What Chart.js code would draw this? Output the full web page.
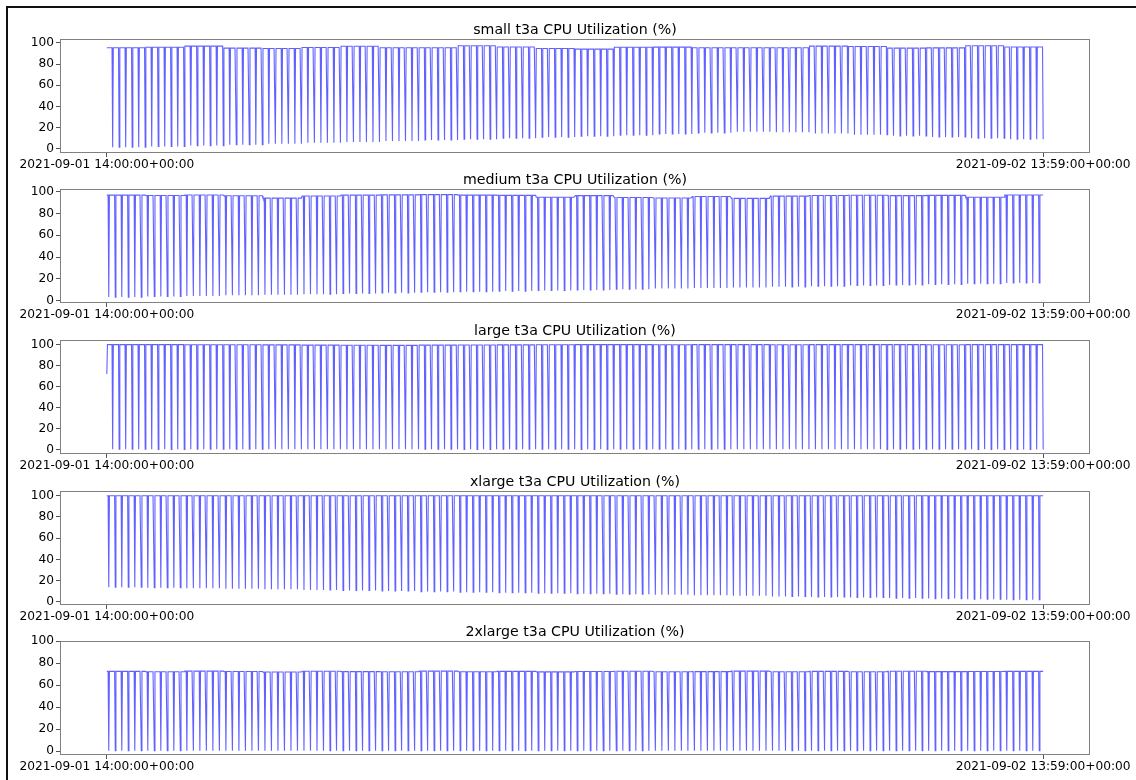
<!DOCTYPE html>
<html>
<head>
<meta charset="utf-8">
<script src="https://cdn.jsdelivr.net/npm/chart.js@4.4.0/dist/chart.umd.min.js"></script>
<style>
  html, body { margin: 0; padding: 0; background: #fff; }
  body { width: 1136px; height: 780px; position: relative; overflow: hidden; }
  #frame { position: absolute; left: 6px; top: 6px; width: 1140px; height: 780px;
           border-left: 2px solid #111; border-top: 2px solid #111; }
  canvas { position: absolute; left: 0; }
</style>
</head>
<body>
<div id="frame"></div>
<script>
const FONT = 'DejaVu Sans';
const MINUTES = 1440;            // one point per minute, 14:00 -> 13:59
const instanceNames = ['small', 'medium', 'large', 'xlarge', '2xlarge'];
const xTickMinutes = [0, 1439];
const xTickLabels = ['2021-09-01 14:00:00+00:00', '2021-09-02 13:59:00+00:00'];
const yTicks = [0, 20, 40, 60, 80, 100];

// hourly readings: level of the busy stretch, and bottom of the 1-minute dip every 10 min
const smallPeak   = [95.3, 95.8, 96.9, 95.0, 94.7, 95.6, 96.8, 95.3, 95.3, 97.2, 96.0, 94.6,
                     94.0, 95.8, 95.9, 95.4, 95.3, 95.3, 96.9, 96.5, 95.0, 95.2, 97.2, 96.0];
const smallTrough = [1.5, 2.2, 3.0, 3.9, 4.7, 5.6, 6.4, 7.3, 8.2, 9.0, 10.0, 11.0,
                     11.9, 12.8, 13.9, 15.0, 16.1, 15.5, 14.4, 13.3, 12.2, 11.1, 10.0, 9.0];
const mediumPeak   = [96.8, 96.4, 96.9, 96.2, 94.0, 96.0, 96.8, 97.0, 97.2, 96.8, 96.6, 94.8,
                      96.3, 94.6, 94.2, 95.5, 93.8, 95.9, 96.5, 96.7, 96.3, 96.6, 94.8, 96.9];
const mediumTrough = [3.3, 3.8, 4.4, 4.9, 5.5, 6.0, 6.6, 7.2, 7.7, 8.3, 8.8, 9.4,
                      9.9, 10.5, 11.1, 11.6, 12.2, 12.7, 13.3, 13.9, 14.4, 15.0, 15.6, 16.2];
const largePeak   = [99.8, 99.8, 99.7, 99.7, 99.6, 99.3, 99.2, 99.1, 99.3, 99.5, 99.6, 99.7,
                     99.8, 99.8, 99.7, 99.8, 99.8, 99.7, 99.8, 99.8, 99.8, 99.7, 99.8, 99.8];
const largeTrough = [0.5, 0.4, 0.5, 0.5, 0.4, 0.5, 0.6, 0.5, 0.5, 0.4, 0.5, 0.5,
                     0.4, 0.5, 0.5, 0.5, 0.4, 0.5, 0.5, 0.4, 0.5, 0.5, 0.4, 0.3];
const xlargePeak   = [99.9, 99.9, 99.9, 99.8, 99.9, 99.9, 99.9, 99.9, 99.8, 99.9, 99.9, 99.9,
                      99.9, 99.9, 99.8, 99.9, 99.9, 99.9, 99.9, 99.9, 99.8, 99.9, 99.9, 99.9];
const xlargeTrough = [13.8, 13.3, 12.8, 12.3, 11.8, 11.3, 10.8, 10.2, 9.7, 9.2, 8.7, 8.2,
                      7.7, 7.2, 6.7, 6.2, 5.7, 5.2, 4.6, 4.1, 3.6, 3.1, 2.6, 2.0];
const xxlargePeak   = [72.4, 72.0, 72.6, 72.3, 71.8, 72.5, 72.2, 72.0, 72.6, 72.1, 72.4, 71.9,
                       72.3, 72.5, 72.0, 72.2, 72.6, 72.1, 72.4, 72.0, 72.5, 72.2, 72.3, 72.4];
const xxlargeTrough = [0.2, 0.2, 0.3, 0.2, 0.2, 0.2, 0.3, 0.2, 0.2, 0.2, 0.2, 0.3,
                       0.2, 0.2, 0.2, 0.3, 0.2, 0.2, 0.2, 0.2, 0.3, 0.2, 0.2, 0.2];

const peaks = [smallPeak, mediumPeak, largePeak, xlargePeak, xxlargePeak];
const troughs = [smallTrough, mediumTrough, largeTrough, xlargeTrough, xxlargeTrough];
const dipMinute = [9, 3, 9, 3, 3];          // minute within each 10-min cycle that dips
const firstValue = [95.3, 96.8, 72.0, 99.9, 72.4];
const yLimits = [[-4.0, 103.6], [-2.1, 102.4], [-4.0, 104.2], [-2.9, 104.3], [-3.6, 100]];

// layout of the stacked axes (px)
const panelTops = [39, 189, 340, 491, 641];
const panelHeight = 114;
const titleBox = 22, xAxisBox = 22;

function buildSeries(i) {
  const pts = [];
  for (let m = 0; m < MINUTES; m++) {
    const h = Math.floor(m / 60);
    let y = (m % 10 === dipMinute[i]) ? troughs[i][h] : peaks[i][h];
    if (m === 0) y = firstValue[i];
    pts.push({ x: m, y: y });
  }
  return pts;
}

// grey box round the plot area plus the title centred over it (matplotlib style)
const boxPlugin = {
  id: 'box',
  afterDraw(chart, args, opts) {
    const a = chart.chartArea, ctx = chart.ctx;
    ctx.save();
    ctx.strokeStyle = '#808080';
    ctx.lineWidth = 1;
    ctx.strokeRect(Math.round(a.left) + 0.5, Math.round(a.top) + 0.5,
                   Math.round(a.right - a.left) - 1, Math.round(a.bottom - a.top) - 1);
    ctx.fillStyle = '#000';
    ctx.font = '14.2px "' + FONT + '"';
    ctx.textAlign = 'center';
    ctx.textBaseline = 'middle';
    ctx.fillText(opts.text, (a.left + a.right) / 2, a.top - 9);
    ctx.restore();
  }
};

const span = MINUTES - 1;
const tickFont = { family: FONT, size: 12.2 };

instanceNames.forEach((name, i) => {
  const cv = document.createElement('canvas');
  const h = titleBox + panelHeight + xAxisBox;
  cv.width = 1136; cv.height = h;
  cv.style.width = '1136px'; cv.style.height = h + 'px';
  cv.style.top = (panelTops[i] - titleBox) + 'px';
  document.body.appendChild(cv);

  new Chart(cv, {
    type: 'line',
    data: {
      datasets: [{
        data: buildSeries(i),
        borderColor: 'rgba(0, 0, 255, 0.62)',
        borderWidth: 1.1,
        pointRadius: 0,
        tension: 0,
        fill: false
      }]
    },
    options: {
      responsive: false,
      animation: false,
      events: [],
      parsing: false,
      normalized: true,
      layout: { padding: { left: 0, right: 46, top: titleBox, bottom: 0 } },
      plugins: {
        legend: { display: false },
        tooltip: { enabled: false },
        box: { text: name + ' t3a CPU Utilization (%)' }
      },
      scales: {
        x: {
          type: 'linear',
          min: -0.05 * span,
          max: span * 1.05,
          afterBuildTicks: s => { s.ticks = xTickMinutes.map(v => ({ value: v })); },
          afterFit: s => { s.height = xAxisBox; },
          ticks: {
            autoSkip: false, maxRotation: 0, padding: 1, color: '#000', font: tickFont,
            callback: v => xTickLabels[xTickMinutes.indexOf(v)]
          },
          grid: { drawOnChartArea: false, tickLength: 4, color: '#555' },
          border: { display: false }
        },
        y: {
          min: yLimits[i][0],
          max: yLimits[i][1],
          afterBuildTicks: s => { s.ticks = yTicks.map(v => ({ value: v })); },
          afterFit: s => { s.width = 60; },
          ticks: { padding: 2, color: '#000', font: tickFont },
          grid: { drawOnChartArea: false, tickLength: 4, color: '#555' },
          border: { display: false }
        }
      }
    },
    plugins: [boxPlugin]
  });
});
</script>
</body>
</html>
